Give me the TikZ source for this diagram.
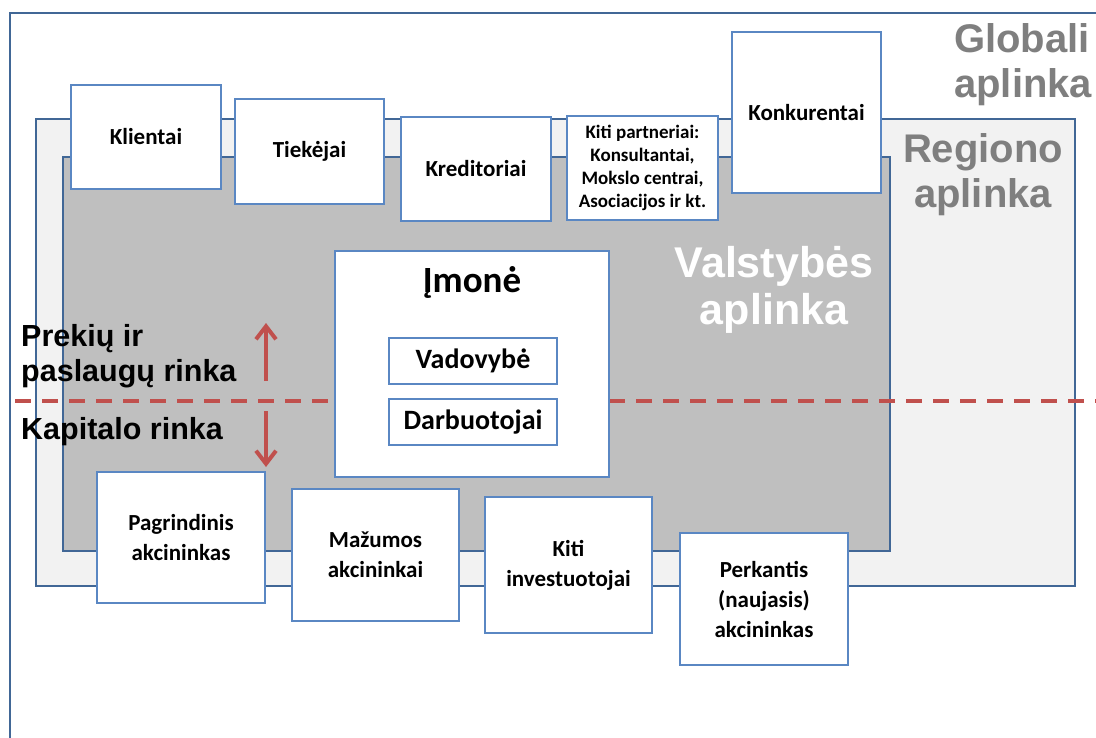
\documentclass[tikz,border=0pt]{standalone}
\usepackage{fontspec}
\setmainfont{Carlito}
\newfontfamily\arialf{Liberation Sans}
\usetikzlibrary{arrows.meta}
\definecolor{frameblue}{RGB}{65,103,150}
\definecolor{boxblue}{RGB}{90,135,195}
\definecolor{regfill}{RGB}{242,242,242}
\definecolor{statefill}{RGB}{191,191,191}
\definecolor{greytxt}{RGB}{127,127,127}
\definecolor{redline}{RGB}{192,80,77}
\tikzset{
  box/.style={draw=boxblue, fill=white, line width=2.2pt, align=center, inner sep=2pt,
     font=\bfseries\fontsize{23}{30}\selectfont},
  envlabel/.style={font=\arialf\bfseries\fontsize{40}{45}\selectfont, align=center, inner sep=0pt},
  mktlabel/.style={font=\arialf\bfseries\fontsize{30.5}{35}\selectfont, align=left, inner sep=0pt, anchor=west},
  redarrow/.style={redline, line width=4pt, -{Straight Barb[length=13pt,width=20pt,line width=4pt]}}
}
\begin{document}
\begin{tikzpicture}[x=1pt,y=-1pt]
\useasboundingbox (0,0) rectangle (1096,737);
\clip (0,0) rectangle (1096,737);
\fill[white] (0,0) rectangle (1096,737);
% global environment
\draw[frameblue, line width=2.2pt] (10,13) rectangle (1120,760);
% region
\draw[frameblue, line width=2.2pt, fill=regfill] (36,119) rectangle (1075,586);
% state
\draw[frameblue, line width=2.2pt, fill=statefill] (63,157) rectangle (890,551);
% environment labels
\node[envlabel, text=greytxt, anchor=north west, align=left] (glob) at (954,23) {Globali\\aplinka};
\node[envlabel, text=greytxt] (reg) at (983,175) {Regiono\\aplinka};
\node[envlabel, text=white, font=\arialf\bfseries\fontsize{43}{47}\selectfont] (val) at (774,290) {Valstybės\\aplinka};
% dashed line
\coordinate (dl) at (15,401);
\coordinate (dr) at (1100,401);
\draw[redline, line width=3.5pt, dash pattern=on 16pt off 11pt] (dl) -- (dr);
% market labels
\node[mktlabel] (prek) at (21,356) {Prekių ir\\paslaugų rinka};
\node[mktlabel] (kap) at (21,432) {Kapitalo rinka};
% arrows
\coordinate (au1) at (266,381);
\coordinate (au2) at (266,323);
\coordinate (ad1) at (266,411);
\coordinate (ad2) at (266,467);
\draw[redarrow] (au1) -- (au2);
\draw[redarrow] (ad1) -- (ad2);
% top boxes
\node[box, minimum width=150, minimum height=104] (klien) at (146,137) {\raisebox{-3pt}{Klientai}};
\node[box, minimum width=149, minimum height=105] (tiek) at (309.5,151.5) {\raisebox{-3pt}{Tiekėjai}};
\node[box, minimum width=150, minimum height=104] (kred) at (476,169) {\raisebox{-3pt}{Kreditoriai}};
\node[box, minimum width=151, minimum height=104, font=\bfseries\fontsize{19}{23}\selectfont] (kiti) at (642.5,168) {Kiti partneriai:\\Konsultantai,\\Mokslo centrai,\\Asociacijos ir kt.};
\node[box, minimum width=149, minimum height=161] (konk) at (806.5,112.5) {Konkurentai};
% company
\node[box, minimum width=274, minimum height=226] (imone) at (472,364) {};
\node[font=\bfseries\fontsize{37}{40}\selectfont, inner sep=0pt] (imt) at (472,282) {Įmonė};
\node[box, minimum width=168, minimum height=46, font=\bfseries\fontsize{28}{32}\selectfont] (vad) at (473,361) {Vadovybė};
\node[box, minimum width=168, minimum height=46, font=\bfseries\fontsize{28}{32}\selectfont] (darb) at (473,422) {Darbuotojai};
% bottom boxes
\node[box, minimum width=168, minimum height=131] (pagr) at (181,537.5) {Pagrindinis\\akcininkas};
\node[box, minimum width=167, minimum height=132] (maz) at (375.5,555) {Mažumos\\akcininkai};
\node[box, minimum width=167, minimum height=136] (kinv) at (568.5,565) {Kiti\\investuotojai};
\node[box, minimum width=168, minimum height=132] (perk) at (764,599) {Perkantis\\(naujasis)\\akcininkas};
\end{tikzpicture}
\end{document}
